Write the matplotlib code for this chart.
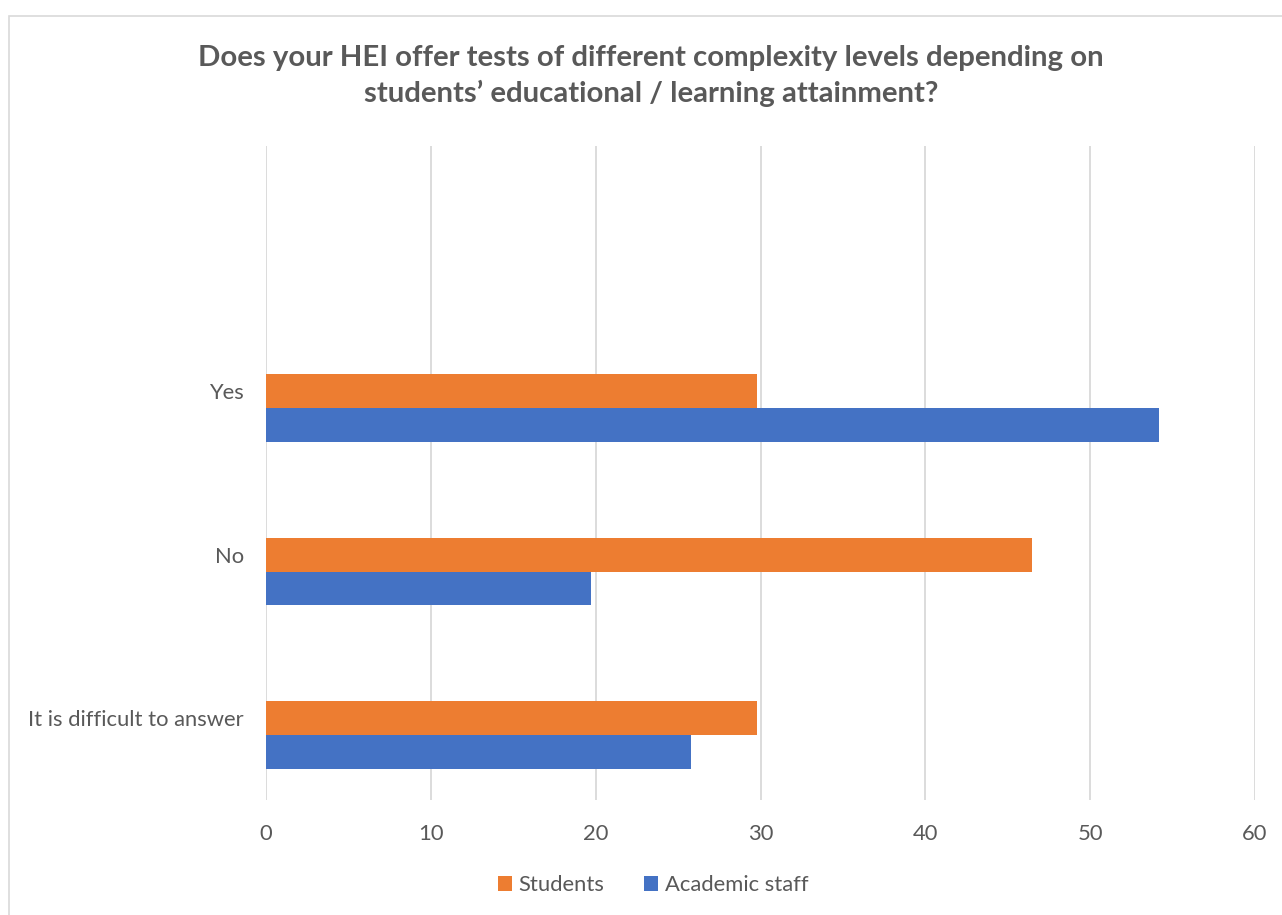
import matplotlib
matplotlib.use("Agg")
import matplotlib.pyplot as plt
from matplotlib.patches import Rectangle, Patch
import numpy as np

categories = ["It is difficult to answer", "No", "Yes"]
students = [29.8, 46.5, 29.8]
academic_staff = [25.8, 19.7, 54.2]
series_names = ["Students", "Academic staff"]
x_ticks = [0, 10, 20, 30, 40, 50, 60]
title = "Does your HEI offer tests of different complexity levels depending on\nstudents\u2019 educational / learning attainment?"

ORANGE = "#ED7D31"
BLUE = "#4472C4"
TEXT = "#595959"
GRID = "#D9D9D9"

plt.rcParams['font.family'] = ['Lato', 'DejaVu Sans']

fig = plt.figure(figsize=(12.82, 9.15), dpi=100)
fig.patch.set_facecolor("white")

# chart frame
fig.add_artist(Rectangle((9 / 1282, -0.01), 1.02, 1 - 16 / 915 + 0.01,
                         transform=fig.transFigure, fill=False,
                         edgecolor=GRID, linewidth=1.2))

ax = fig.add_axes([266 / 1282, 1 - 800 / 915, (1255 - 266) / 1282, (800 - 146) / 915])
y = np.arange(len(categories))
h = 0.205
ax.barh(y, students, height=h, color=ORANGE, label=series_names[0], zorder=3)
ax.barh(y - h, academic_staff, height=h, color=BLUE, label=series_names[1], zorder=3)

ax.set_xlim(0, 60)
ax.set_ylim(-0.5, 3.5)
ax.set_xticks(x_ticks)
ax.set_yticks(y)
ax.set_yticklabels(categories)
ax.tick_params(axis="both", length=0, colors=TEXT, labelsize=15.8)
ax.tick_params(axis="y", pad=16)
ax.tick_params(axis="x", pad=17.5)
for s in ax.spines.values():
    s.set_visible(False)
ax.grid(axis="x", color=GRID, linewidth=1.3, zorder=0)
ax.set_axisbelow(True)

fig.text(651 / 1282, 1 - 76 / 915, title, ha="center", va="center",
         fontsize=21.2, fontweight="bold", color=TEXT, linespacing=1.42)

handles = [Patch(facecolor=ORANGE, edgecolor="none"), Patch(facecolor=BLUE, edgecolor="none")]
fig.legend(handles, series_names, loc="center", bbox_to_anchor=(653 / 1282, 1 - 885 / 915),
           ncol=2, frameon=False, fontsize=15.8, labelcolor=TEXT,
           handlelength=0.65, handleheight=0.65, handletextpad=0.3, columnspacing=1.8)

fig.savefig("out.png", dpi=100, facecolor="white")
